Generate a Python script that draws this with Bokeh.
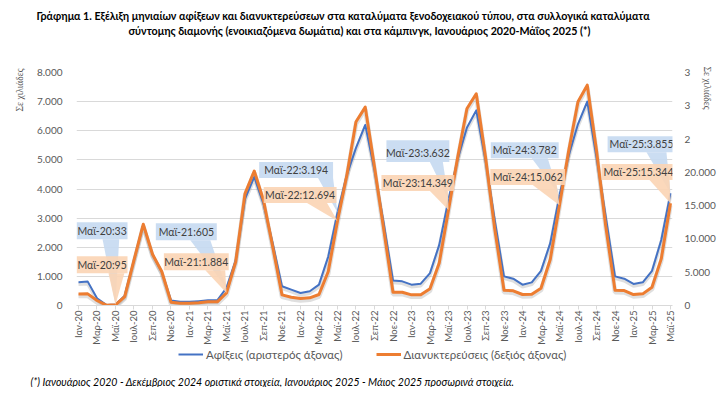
import math
from bokeh.plotting import figure
from bokeh.layouts import column
from bokeh.models import (Range1d, LinearAxis, FixedTicker, Label, Legend, LegendItem,
                          BoxAnnotation, PolyAnnotation, ColumnDataSource, Title)
from bokeh.transform import dodge
from bokeh.embed import file_html
from bokeh.resources import INLINE

# ---------------- data ----------------
months = [
    "Ιαν-20", "Φεβ-20", "Μαρ-20", "Απρ-20", "Μαϊ-20", "Ιουν-20", "Ιουλ-20", "Αυγ-20", "Σεπ-20", "Οκτ-20", "Νοε-20", "Δεκ-20",
    "Ιαν-21", "Φεβ-21", "Μαρ-21", "Απρ-21", "Μαϊ-21", "Ιουν-21", "Ιουλ-21", "Αυγ-21", "Σεπ-21", "Οκτ-21", "Νοε-21", "Δεκ-21",
    "Ιαν-22", "Φεβ-22", "Μαρ-22", "Απρ-22", "Μαϊ-22", "Ιουν-22", "Ιουλ-22", "Αυγ-22", "Σεπ-22", "Οκτ-22", "Νοε-22", "Δεκ-22",
    "Ιαν-23", "Φεβ-23", "Μαρ-23", "Απρ-23", "Μαϊ-23", "Ιουν-23", "Ιουλ-23", "Αυγ-23", "Σεπ-23", "Οκτ-23", "Νοε-23", "Δεκ-23",
    "Ιαν-24", "Φεβ-24", "Μαρ-24", "Απρ-24", "Μαϊ-24", "Ιουν-24", "Ιουλ-24", "Αυγ-24", "Σεπ-24", "Οκτ-24", "Νοε-24", "Δεκ-24",
    "Ιαν-25", "Φεβ-25", "Μαρ-25", "Απρ-25", "Μαϊ-25",
]

# Arrivals, thousands (left axis)
arrivals = [
    800, 820, 250, 20, 33, 340, 1560, 2780, 1760, 1160, 170, 125,
    125, 150, 180, 180, 605, 1560, 3660, 4420, 3490, 2120, 660, 545,
    430, 490, 715, 1680, 3194, 4470, 5410, 6200, 4640, 2820, 860, 830,
    715, 750, 1110, 2080, 3632, 5030, 6110, 6700, 4980, 2930, 1000, 920,
    715, 795, 1190, 2140, 3782, 5150, 6230, 7000, 5090, 3050, 1000, 920,
    740, 795, 1190, 2250, 3855,
]

# Overnight stays, thousands (right axis)
overnights = [
    1740, 1750, 750, 50, 95, 1350, 6800, 12200, 7700, 5100, 500, 350,
    350, 400, 550, 550, 1884, 6600, 16800, 20200, 15800, 8800, 1600, 1250,
    1050, 1150, 1650, 5100, 12694, 19500, 27600, 29800, 20800, 11400, 2000, 2000,
    1600, 1600, 2500, 6400, 14349, 22300, 29600, 31800, 22300, 11500, 2300, 2200,
    1650, 1700, 2600, 6900, 15062, 23300, 30600, 33100, 23300, 11900, 2300, 2250,
    1650, 1750, 2750, 7000, 15344,
]

left_ticks = [0, 1000, 2000, 3000, 4000, 5000, 6000, 7000, 8000]
left_tick_labels = ["0", "1.000", "2.000", "3.000", "4.000", "5.000", "6.000", "7.000", "8.000"]
right_ticks = [0, 5000, 10000, 15000, 20000, 25000, 30000, 35000]
right_tick_labels = ["0", "5.000", "10.000", "15.000", "20.000", "2", "3", "3"]

title_line1 = ("Γράφημα 1. Εξέλιξη μηνιαίων αφίξεων και διανυκτερεύσεων στα καταλύματα "
               "ξενοδοχειακού τύπου, στα συλλογικά καταλύματα")
title_line2 = ("σύντομης διαμονής (ενοικιαζόμενα δωμάτια) και στα κάμπινγκ, "
               "Ιανουάριος 2020-Μάΐος 2025 (*)")
footnote = ("(*) Ιανουάριος 2020 - Δεκέμβριος 2024 οριστικά στοιχεία, "
            "Ιανουάριος 2025 - Μάιος 2025 προσωρινά στοιχεία.")
unit_label = "Σε χιλιάδες"
legend_labels = ["Αφίξεις (αριστερός άξονας)", "Διανυκτερεύσεις (δεξιός άξονας)"]

# callout month indices (May of each year)
callout_idx = [4, 16, 28, 40, 52, 64]

# callout geometry: box left, right, top, bottom, text x, text y, pointer base x1, x2
blue_boxes = [
    (-0.2, 5.3, 2855, 2274, 2.55, 2564, 2.6, 4.4),
    (8.36, 14.95, 2821, 2239, 11.66, 2530, 12.09, 14.25),
    (19.53, 27.52, 4923, 4376, 23.53, 4650, 25.9, 27.52),
    (33.29, 40.09, 5675, 4923, 36.69, 5231, 37.99, 39.39),
    (44.57, 51.91, 5607, 5060, 48.24, 5333, 49.0, 50.72),
    (57.2, 64.54, 5812, 5265, 60.87, 5538, 61.4, 63.56),
]
orange_boxes = [
    (-0.2, 5.3, 7404, 4861, 2.55, 6132, 3.24, 4.96),
    (9.23, 16.24, 7852, 5310, 12.73, 6581, 13.71, 15.86),
    (20.02, 27.90, 17798, 15405, 23.96, 16602, 24.71, 26.87),
    (32.75, 40.63, 19593, 17200, 36.69, 18397, 37.99, 39.93),
    (44.52, 52.61, 20490, 18097, 48.56, 19294, 49.1, 51.7),
    (56.55, 64.54, 21238, 18845, 60.54, 20042, 61.73, 63.89),
]

LEFT_MAX = 8000
RIGHT_MAX = 35000


def fmt(v):
    return f"{v:,}".replace(",", ".")


# ---------------- styles ----------------
FONT = "Lato"
BLUE = "#4472C4"
ORANGE = "#ED7D31"
GRID = "#D9D9D9"
TXT = "#595959"
BLUE_FILL = "#C5D9F1"
ORANGE_FILL = "#FBD4B4"
W = 718
BL, BR = 76, 45


def strip(height, top=0, bottom=0):
    f = figure(width=W, height=height, output_backend="svg", toolbar_location=None,
               x_axis_type=None, y_axis_type=None,
               min_border_left=BL, min_border_right=BR, min_border_top=top, min_border_bottom=bottom,
               x_range=Range1d(-1000, -999), y_range=Range1d(-1000, -999),
               background_fill_color="white", border_fill_color="white")
    f.outline_line_color = None
    f.grid.visible = False
    f.title.visible = False
    return f


# ---------------- title strip ----------------
p0 = strip(38, top=36)
p0.add_layout(Title(text=title_line2, align="left", offset=52, vertical_align="bottom", standoff=0,
                    text_font=FONT, text_font_style="bold", text_font_size="10.7px",
                    text_color="#000000"), "above")
p0.add_layout(Title(text=title_line1, align="left", offset=-40, vertical_align="bottom", standoff=0,
                    text_font=FONT, text_font_style="bold", text_font_size="10.7px",
                    text_color="#000000"), "above")

# ---------------- main chart ----------------
p = figure(width=W, height=309, output_backend="svg", toolbar_location=None,
           x_range=Range1d(-0.216, 64.216), y_range=Range1d(0, LEFT_MAX),
           min_border_left=BL, min_border_right=BR, min_border_top=34, min_border_bottom=41,
           background_fill_color="white", border_fill_color="white")
p.outline_line_color = None
p.title.visible = False
p.extra_y_ranges = {"right": Range1d(0, RIGHT_MAX)}

src = ColumnDataSource(dict(x=list(range(len(months))), arr=arrivals, ov=overnights))

# shadows
p.line("x", dodge("arr", -70), source=src, line_color="#7F7F7F", line_alpha=0.25, line_width=3.5)
p.line("x", dodge("ov", -300), source=src, line_color="#7F7F7F", line_alpha=0.25,
       line_width=4.5, y_range_name="right")
p.line("x", "arr", source=src, line_color=BLUE, line_width=2, line_join="round")
p.line("x", "ov", source=src, line_color=ORANGE, line_width=3, line_join="round",
       y_range_name="right")

xa = p.xaxis[0]
xa.ticker = FixedTicker(ticks=list(range(0, len(months), 2)))
xa.major_label_overrides = {i: months[i] for i in range(0, len(months), 2)}
xa.major_label_orientation = math.pi / 2
xa.axis_line_color = GRID
xa.major_tick_line_color = GRID
xa.major_tick_in = 0
xa.major_tick_out = 4
xa.minor_tick_line_color = None
xa.major_label_standoff = 1
xa.major_label_text_font = FONT
xa.major_label_text_font_size = "9.5px"
xa.major_label_text_color = TXT

ya = p.yaxis[0]
ya.ticker = FixedTicker(ticks=left_ticks)
ya.major_label_overrides = dict(zip(left_ticks, left_tick_labels))
ya.axis_line_color = None
ya.major_tick_line_color = None
ya.major_tick_out = 0
ya.major_tick_in = 0
ya.minor_tick_line_color = None
ya.major_label_standoff = 14
ya.major_label_text_font = FONT
ya.major_label_text_font_size = "10px"
ya.major_label_text_color = TXT

ra = LinearAxis(y_range_name="right", ticker=FixedTicker(ticks=right_ticks))
ra.major_label_overrides = dict(zip(right_ticks, right_tick_labels))
ra.axis_line_color = None
ra.major_tick_line_color = None
ra.major_tick_out = 0
ra.major_tick_in = 0
ra.minor_tick_line_color = None
ra.major_label_standoff = 12
ra.major_label_text_font = FONT
ra.major_label_text_font_size = "10px"
ra.major_label_text_color = TXT
p.add_layout(ra, "right")

# unit labels at the top of each vertical axis
p.add_layout(Title(text=unit_label, align="right", offset=-4, vertical_align="middle", standoff=16,
                   text_font="Liberation Serif", text_font_style="normal",
                   text_font_size="9.5px", text_color=TXT), "left")
p.add_layout(Title(text=unit_label, align="left", offset=-6, vertical_align="bottom", standoff=-34,
                   text_font="Liberation Serif", text_font_style="normal",
                   text_font_size="9.5px", text_color=TXT), "right")

p.xgrid.visible = False
p.ygrid.ticker = FixedTicker(ticks=left_ticks)
p.ygrid.grid_line_color = GRID
p.ygrid.grid_line_width = 1

# callouts
ratio = LEFT_MAX / RIGHT_MAX
for (l, r, t, b, tx, ty, b1, b2), i in zip(blue_boxes, callout_idx):
    p.add_layout(PolyAnnotation(xs=[b1, b2, i], ys=[b, b, arrivals[i]],
                                fill_color=BLUE_FILL, fill_alpha=0.9, line_alpha=0))
    p.add_layout(BoxAnnotation(left=l, right=r, top=t, bottom=b,
                               fill_color=BLUE_FILL, fill_alpha=0.9, line_alpha=0))
    p.add_layout(Label(x=tx, y=ty, text=f"{months[i]}:{fmt(arrivals[i])}",
                       text_align="center", text_baseline="middle",
                       text_font=FONT, text_font_size="10.5px", text_color="#404040"))
for (l, r, t, b, tx, ty, b1, b2), i in zip(orange_boxes, callout_idx):
    p.add_layout(PolyAnnotation(xs=[b1, b2, i], ys=[b * ratio, b * ratio, overnights[i] * ratio],
                                fill_color=ORANGE_FILL, fill_alpha=0.9, line_alpha=0))
    p.add_layout(BoxAnnotation(left=l, right=r, top=t, bottom=b,
                               fill_color=ORANGE_FILL, fill_alpha=0.9, line_alpha=0,
                               y_range_name="right"))
    p.add_layout(Label(x=tx, y=ty, text=f"{months[i]}:{fmt(overnights[i])}",
                       text_align="center", text_baseline="middle", y_range_name="right",
                       text_font=FONT, text_font_size="10.5px", text_color="#404040"))

# ---------------- legend + footnote strip ----------------
p2 = strip(40)
lb = p2.line("x", "arr", source=src, line_color=BLUE, line_width=2)
lo = p2.line("x", "ov", source=src, line_color=ORANGE, line_width=3)
legend = Legend(items=[LegendItem(label=legend_labels[0], renderers=[lb]),
                       LegendItem(label=legend_labels[1], renderers=[lo])],
                orientation="horizontal", location=(102, 11),
                background_fill_alpha=0, border_line_alpha=0, padding=0, margin=0,
                spacing=33, glyph_width=25, glyph_height=16, label_height=16,
                label_standoff=3, label_text_font=FONT, label_text_font_size="11.5px",
                label_text_color=TXT)
p2.add_layout(legend)
p2.add_layout(Title(text=footnote, align="left", offset=-46, vertical_align="bottom", standoff=0,
                    text_font=FONT, text_font_style="italic", text_font_size="10.5px",
                    text_color="#000000"), "below")

layout = column(p0, p, p2, spacing=0)
open("out.html", "w").write(file_html(layout, INLINE))
